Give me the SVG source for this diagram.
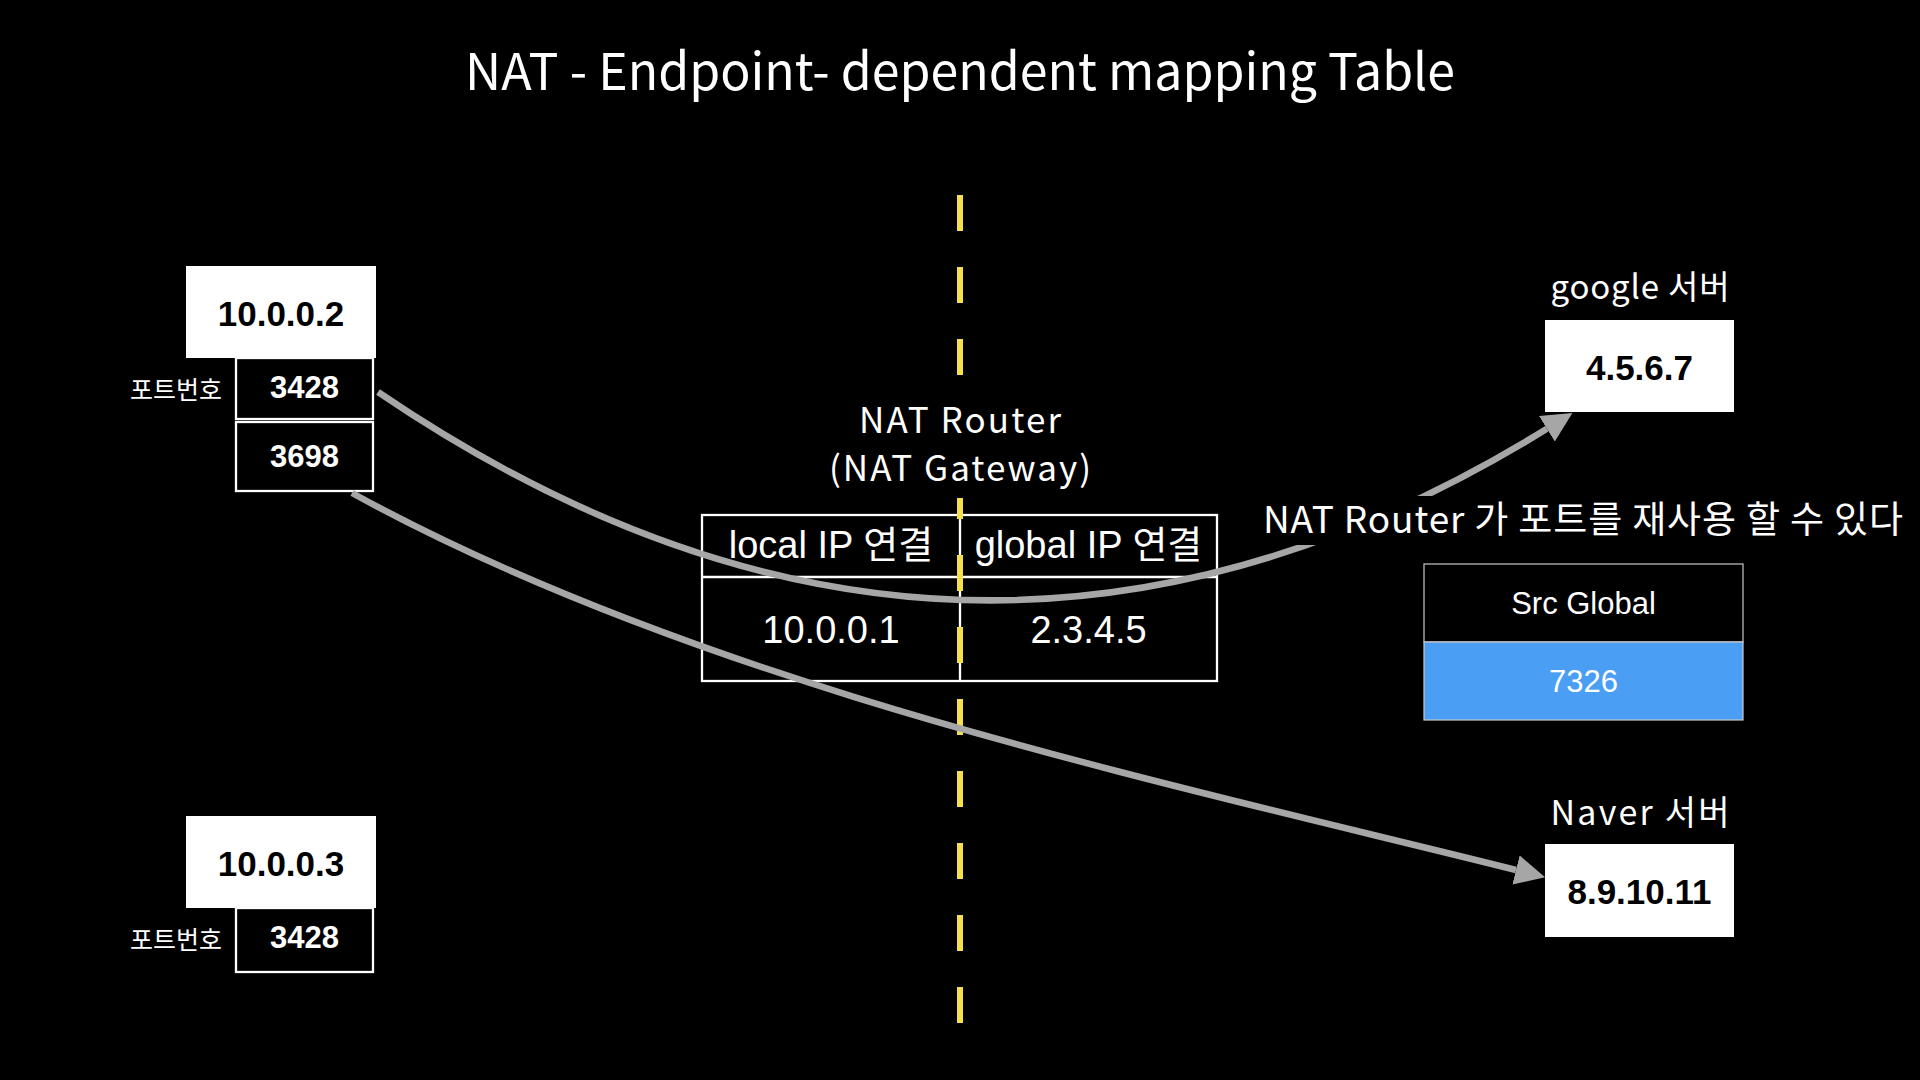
<svg xmlns="http://www.w3.org/2000/svg" width="1920" height="1080" viewBox="0 0 1920 1080">
  <style>
    .round { font-family: "Noto Sans CJK KR", "Noto Sans", sans-serif; fill: #ffffff; }
    .sans { font-family: "Liberation Sans", "Noto Sans CJK KR", sans-serif; }
    .ipbox { fill: #ffffff; }
    .iptext { font-family: "Liberation Sans", "Noto Sans CJK KR", sans-serif; font-weight: bold; font-size: 35px; fill: #000000; text-anchor: middle; }
    .portbox { fill: #000000; stroke: #ffffff; stroke-width: 2.3; }
    .porttext { font-family: "Liberation Sans", sans-serif; font-weight: bold; font-size: 31px; fill: #ffffff; text-anchor: middle; }
    .portlabel { font-family: "Noto Sans CJK KR", sans-serif; font-size: 25px; fill: #ffffff; text-anchor: end; }
    .tline { stroke: #ffffff; stroke-width: 2.3; fill: none; }
    .ttext { font-family: "Liberation Sans", "Noto Sans CJK KR", sans-serif; font-size: 38px; fill: #ffffff; text-anchor: middle; }
    .conn { fill: none; stroke: #a6a6a6; stroke-width: 6.5; }
  </style>
  <defs>
    <marker id="arrow" markerUnits="userSpaceOnUse" markerWidth="32" markerHeight="32" refX="0" refY="15" orient="auto" viewBox="0 0 32 32">
      <path d="M0,0 L30,15 L0,30 z" fill="#a6a6a6"/>
    </marker>
  </defs>

  <rect x="0" y="0" width="1920" height="1080" fill="#000000"/>

  <text id="title" class="round" x="960" y="90" font-size="51" text-anchor="middle" textLength="990" lengthAdjust="spacingAndGlyphs">NAT - Endpoint- dependent mapping Table</text>

  <g id="host-10-0-0-2">
    <rect class="ipbox" x="186" y="266" width="190" height="92"/>
    <text class="iptext" x="281" y="326">10.0.0.2</text>
    <text class="portlabel" x="222" y="399">포트번호</text>
    <rect class="portbox" x="236" y="358" width="137" height="61"/>
    <text class="porttext" x="304.5" y="398">3428</text>
    <rect class="portbox" x="236" y="422" width="137" height="69"/>
    <text class="porttext" x="304.5" y="467">3698</text>
  </g>

  <g id="host-10-0-0-3">
    <rect class="ipbox" x="186" y="816" width="190" height="92"/>
    <text class="iptext" x="281" y="876">10.0.0.3</text>
    <text class="portlabel" x="222" y="949">포트번호</text>
    <rect class="portbox" x="236" y="908" width="137" height="64"/>
    <text class="porttext" x="304.5" y="948">3428</text>
  </g>

  <g id="google-server">
    <text class="round" x="1640" y="299" font-size="33" text-anchor="middle" textLength="179" lengthAdjust="spacing">google 서버</text>
    <rect class="ipbox" x="1545" y="320" width="189" height="92"/>
    <text class="iptext" x="1639.5" y="380">4.5.6.7</text>
  </g>

  <g id="naver-server">
    <text class="round" x="1640" y="825" font-size="34" text-anchor="middle" textLength="179" lengthAdjust="spacing">Naver 서버</text>
    <rect class="ipbox" x="1545" y="844" width="189" height="93"/>
    <text class="iptext" x="1639.5" y="904">8.9.10.11</text>
  </g>

  <g id="src-global">
    <rect x="1424" y="564" width="319" height="78" fill="#000000" stroke="#c8c8c8" stroke-width="1.2"/>
    <rect x="1424" y="642" width="319" height="78" fill="#4a9ef4" stroke="#c8c8c8" stroke-width="1.2"/>
    <text class="sans" x="1583.5" y="614" font-size="31" fill="#ffffff" text-anchor="middle">Src Global</text>
    <text class="sans" x="1583.5" y="692" font-size="31" fill="#ffffff" text-anchor="middle">7326</text>
  </g>

  <g id="nat-table">
    <rect x="702" y="515" width="515" height="166" fill="#000000" class="tline"/>
    <line class="tline" x1="702" y1="577" x2="1217" y2="577"/>
    <line class="tline" x1="960" y1="515" x2="960" y2="681"/>
    <text class="ttext" x="831" y="558">local IP 연결</text>
    <text class="ttext" x="1088.5" y="558">global IP 연결</text>
    <text class="ttext" x="831" y="643">10.0.0.1</text>
    <text class="ttext" x="1088.5" y="643">2.3.4.5</text>
  </g>

  <g id="boundary">
    <line x1="960" y1="195" x2="960" y2="1023" stroke="#f5df4d" stroke-width="6" stroke-dasharray="36 36"/>
  </g>

  <g id="nat-router-label">
    <rect x="820" y="400" width="280" height="98" fill="#000000"/>
    <text class="round" x="960" y="433" font-size="35" text-anchor="middle" textLength="202" lengthAdjust="spacing">NAT Router</text>
    <text class="round" x="960" y="481" font-size="35" text-anchor="middle" textLength="262" lengthAdjust="spacing">(NAT Gateway)</text>
  </g>

  <g id="connectors">
    <path class="conn" d="M378,392 Q962.5,789.5 1546.9,428.8" marker-end="url(#arrow)"/>
    <path class="conn" d="M352,493 C702,685.5 1166,782.5 1516,870" marker-end="url(#arrow)"/>
  </g>

  <g id="reuse-label">
    <rect x="1258" y="496" width="650" height="49" fill="#000000"/>
    <text class="round" x="1583" y="533" font-size="37" text-anchor="middle" textLength="640" lengthAdjust="spacing">NAT Router 가 포트를 재사용 할 수 있다</text>
  </g>
</svg>
